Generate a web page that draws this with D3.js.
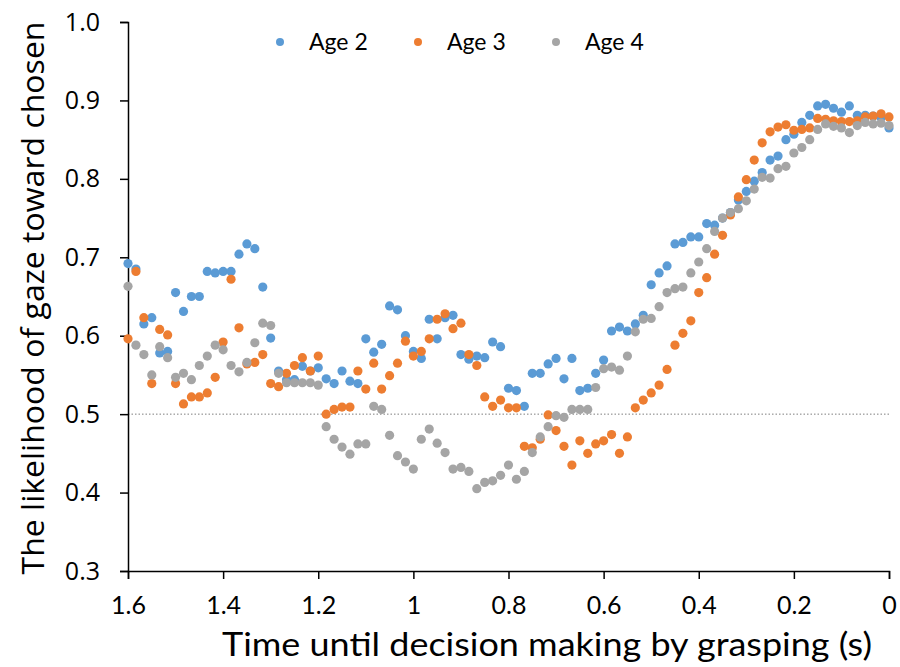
<!DOCTYPE html>
<html>
<head>
<meta charset="utf-8">
<script src="https://cdn.jsdelivr.net/npm/d3@7"></script>
<style>
  body { margin: 0; background: #fff; }
  svg { display: block; }
</style>
</head>
<body>
<div id="chart"></div>
<script>
// Sampled every 1/60 s, from 1.6 s before grasping down to 0
const sampleStep = 1 / 60;
const seriesNames = ["Age 2", "Age 3", "Age 4"];
const seriesColors = ["#5B9BD5", "#ED7D31", "#A5A5A5"];

const age2 = [
  0.692, 0.685, 0.615, 0.623, 0.578, 0.580, 0.655, 0.631, 0.650, 0.650,
  0.682, 0.680, 0.682, 0.682, 0.704, 0.717, 0.711, 0.662, 0.597, 0.555,
  0.544, 0.544, 0.561, 0.555, 0.559, 0.545, 0.539, 0.555, 0.542, 0.539,
  0.596, 0.579, 0.589, 0.638, 0.633, 0.600, 0.580, 0.571, 0.621, 0.596,
  0.623, 0.626, 0.576, 0.570, 0.574, 0.572, 0.592, 0.586, 0.533, 0.530,
  0.510, 0.552, 0.552, 0.564, 0.571, 0.545, 0.571, 0.530, 0.533, 0.552,
  0.569, 0.606, 0.611, 0.606, 0.615, 0.626, 0.665, 0.680, 0.689, 0.717,
  0.719, 0.726, 0.726, 0.743, 0.741, 0.750, 0.757, 0.773, 0.784, 0.797,
  0.808, 0.824, 0.829, 0.850, 0.857, 0.872, 0.881, 0.893, 0.895, 0.890,
  0.885, 0.893, 0.881, 0.881, 0.880, 0.878, 0.865
];
const age3 = [
  0.596, 0.682, 0.623, 0.539, 0.608, 0.601, 0.539, 0.513, 0.522, 0.522,
  0.527, 0.547, 0.592, 0.672, 0.610, 0.564, 0.566, 0.576, 0.539, 0.535,
  0.552, 0.562, 0.572, 0.555, 0.574, 0.500, 0.506, 0.509, 0.509, 0.555,
  0.532, 0.565, 0.532, 0.549, 0.565, 0.593, 0.574, 0.580, 0.596, 0.621,
  0.628, 0.609, 0.616, 0.576, 0.562, 0.522, 0.510, 0.518, 0.508, 0.508,
  0.459, 0.457, 0.468, 0.499, 0.479, 0.459, 0.435, 0.466, 0.450, 0.462,
  0.466, 0.474, 0.450, 0.471, 0.508, 0.518, 0.527, 0.537, 0.557, 0.588,
  0.603, 0.619, 0.655, 0.674, 0.704, 0.728, 0.754, 0.777, 0.799, 0.824,
  0.846, 0.860, 0.866, 0.869, 0.862, 0.863, 0.865, 0.877, 0.876, 0.874,
  0.873, 0.873, 0.874, 0.879, 0.880, 0.883, 0.879
];
const age4 = [
  0.663, 0.588, 0.576, 0.550, 0.586, 0.572, 0.547, 0.552, 0.544, 0.562,
  0.574, 0.588, 0.582, 0.562, 0.554, 0.566, 0.591, 0.616, 0.613, 0.552,
  0.540, 0.540, 0.540, 0.540, 0.537, 0.484, 0.468, 0.458, 0.449, 0.462,
  0.462, 0.510, 0.506, 0.473, 0.447, 0.439, 0.430, 0.468, 0.481, 0.463,
  0.451, 0.430, 0.432, 0.427, 0.405, 0.413, 0.415, 0.422, 0.435, 0.417,
  0.427, 0.451, 0.471, 0.484, 0.498, 0.496, 0.506, 0.506, 0.506, 0.534,
  0.558, 0.560, 0.556, 0.574, 0.605, 0.621, 0.622, 0.637, 0.655, 0.660,
  0.662, 0.680, 0.694, 0.711, 0.733, 0.750, 0.757, 0.762, 0.772, 0.787,
  0.802, 0.801, 0.813, 0.816, 0.833, 0.840, 0.850, 0.863, 0.870, 0.867,
  0.865, 0.859, 0.868, 0.872, 0.870, 0.871, 0.868
];

const xTicks = [1.6, 1.4, 1.2, 1, 0.8, 0.6, 0.4, 0.2, 0];
const yTicks = [0.3, 0.4, 0.5, 0.6, 0.7, 0.8, 0.9, 1.0];
const chanceLevel = 0.5;

const width = 900, height = 667;
const margin = { top: 22, right: 11, bottom: 96, left: 128 };

const svg = d3.select("#chart").append("svg")
  .attr("width", width)
  .attr("height", height);

const x = d3.scaleLinear().domain([1.6, 0]).range([margin.left, width - margin.right]);
const y = d3.scaleLinear().domain([0.3, 1.0]).range([height - margin.bottom, margin.top]);

// chance line
svg.append("line")
  .attr("x1", x(1.6)).attr("x2", x(0))
  .attr("y1", y(chanceLevel)).attr("y2", y(chanceLevel))
  .attr("stroke", "#7f7f7f")
  .attr("stroke-width", 1)
  .attr("stroke-dasharray", "1.5,2");

// axes
const xAxis = svg.append("g")
  .attr("transform", `translate(0,${y(0.3)})`)
  .call(d3.axisBottom(x).tickValues(xTicks).tickSize(8).tickPadding(17)
    .tickFormat(d => d3.format("")(d)));
xAxis.selectAll("text")
  .style("font-family", "Lato, 'Open Sans', sans-serif")
  .style("font-size", "25px")
  .attr("fill", "#000");

const yAxis = svg.append("g")
  .attr("transform", `translate(${x(1.6)},0)`)
  .call(d3.axisLeft(y).tickValues(yTicks).tickSize(8).tickPadding(20)
    .tickFormat(d3.format(".1f")));
yAxis.selectAll("text")
  .style("font-family", "'Open Sans', sans-serif")
  .style("font-size", "25px")
  .attr("fill", "#000");

[xAxis, yAxis].forEach(g => {
  g.select(".domain").attr("stroke", "#000").attr("stroke-width", 1.5);
  g.selectAll(".tick line").attr("stroke", "#000").attr("stroke-width", 1.5);
});

// axis titles
svg.append("text")
  .attr("x", 547)
  .attr("y", 656)
  .attr("text-anchor", "middle")
  .attr("textLength", 650)
  .attr("lengthAdjust", "spacingAndGlyphs")
  .style("font-family", "Lato, 'Open Sans', sans-serif")
  .style("font-size", "32px")
  .text("Time until decision making by grasping (s)");

svg.append("text")
  .attr("transform", `translate(44,298) rotate(-90)`)
  .attr("text-anchor", "middle")
  .attr("textLength", 553)
  .attr("lengthAdjust", "spacingAndGlyphs")
  .style("font-family", "'Open Sans', sans-serif")
  .style("font-size", "31px")
  .text("The likelihood of gaze toward chosen");

// points
const series = [age2, age3, age4];
series.forEach((vals, s) => {
  svg.append("g")
    .selectAll("circle")
    .data(vals)
    .join("circle")
    .attr("cx", (d, i) => x(1.6 - i * sampleStep))
    .attr("cy", d => y(d))
    .attr("r", 4.6)
    .attr("fill", seriesColors[s]);
});

// legend
const legend = svg.append("g").attr("transform", "translate(280,42)");
seriesNames.forEach((name, s) => {
  const item = legend.append("g").attr("transform", `translate(${s * 138},0)`);
  item.append("circle").attr("r", 4).attr("fill", seriesColors[s]);
  item.append("text")
    .attr("x", 29)
    .attr("y", 8)
    .style("font-family", "Lato, 'Open Sans', sans-serif")
    .style("font-size", "23px")
    .text(name);
});
</script>
</body>
</html>
